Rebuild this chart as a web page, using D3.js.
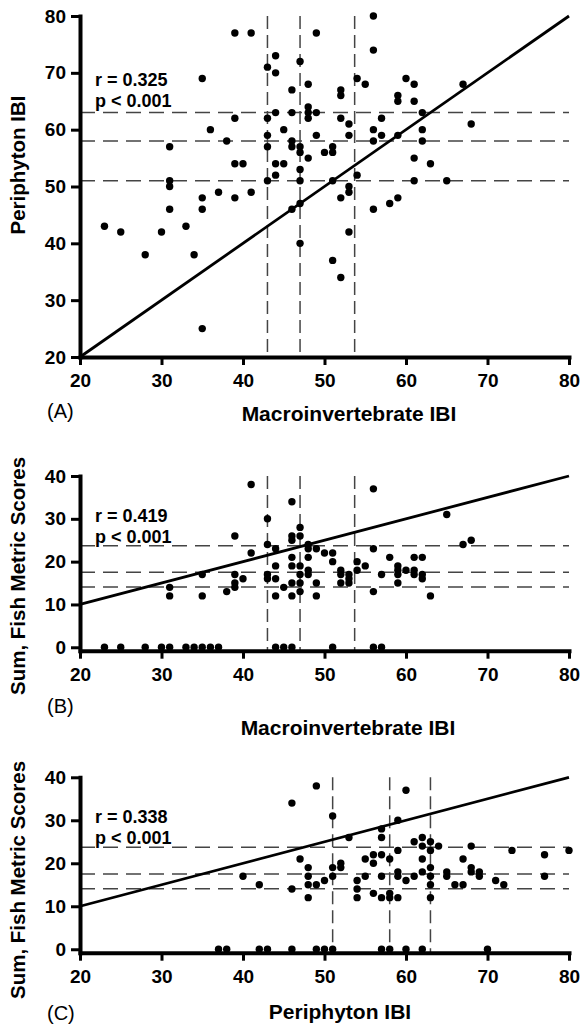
<!DOCTYPE html>
<html>
<head>
<meta charset="utf-8">
<script src="https://cdn.jsdelivr.net/npm/d3@7"></script>
<style>
body { margin: 0; background: #fff; }
svg text { font-family: "Liberation Sans", Arial, Helvetica, sans-serif; }
</style>
</head>
<body>
<script>
// tick labels
const xTicks = [20, 30, 40, 50, 60, 70, 80];
const periTicks = [20, 30, 40, 50, 60, 70, 80];
const fishTicks = [0, 10, 20, 30, 40];

// threshold (dashed) lines
const macroCuts = [43, 47, 53.7];
const periCuts = [51, 58, 63];
const fishCuts = [23.7, 17.5, 14.1];

// fitted lines, [x, y] end points
const fitA = [[20, 20], [80, 80]];
const fitB = [[20, 10], [80, 40]];
const fitC = [[20, 10], [80, 40]];

// sites: (A) macroinvertebrate vs periphyton
const macroVsPeri = [
  [23,43],[25,42],[28,38],[30,42],[33,43],[34,38],[35,25],[47,40],[51,37],[52,34],[53,42],
  [39,77],[41,77],[35,69],[36,60],[31,57],[31,51],[31,50],[31,46],[35,48],[35,46],[37,49],
  [38,58],[39,62],[39,54],[40,54],[39,48],[41,49],[43,71],[44,73],[44,70],[43,62],[43,59],
  [43,57],[43,51],[44,63],[45,60],[44,54],[45,54],[44,52],[46,67],[46,63],[46,58],[46,57],
  [47,72],[46,46],[49,77],[56,80],[56,74],[48,68],[52,67],[52,66],[54,69],[55,68],[60,69],
  [61,68],[59,66],[59,65],[61,65],[67,68],[68,61],[48,64],[48,63],[48,62],[49,63],[52,62],
  [53,61],[53,59],[49,59],[47,57],[47,56],[47,53],[47,51],[48,55],[50,56],[51,57],[51,56],
  [51,51],[54,52],[52,48],[53,50],[53,49],[47,47],[56,60],[56,58],[57,62],[57,59],[59,59],
  [62,63],[62,60],[62,58],[61,55],[61,51],[63,54],[65,51],[56,46],[58,47],[59,48]
];

// (B) macroinvertebrate vs fish
const macroVsFish = [
  [41,38],[46,34],[43,30],[39,26],[47,28],[46,26],[46,25],[47,26],[41,22],[43,24],[44,23],
  [48,24],[48,23],[49,23],[46,21],[46,19],[47,19],[48,21],[48,18],[48,17],[44,19],[43,17],
  [43,16],[44,16],[47,17],[47,15],[47,13],[46,15],[45,14],[44,12],[46,12],[49,15],[49,12],
  [39,17],[39,15],[39,14],[40,16],[38,13],[35,17],[35,12],[31,14],[31,12],
  [56,37],[65,31],[67,24],[68,25],[56,23],[54,20],[54,18],[55,19],[58,21],[50,22],[51,22],
  [51,20],[52,18],[52,17],[52,15],[53,17],[53,16],[53,15],[57,17],[56,13],[59,19],[59,18],
  [59,17],[59,15],[60,18],[61,21],[61,18],[61,17],[62,21],[62,17],[62,16],[63,12],
  [23,0],[25,0],[28,0],[30,0],[31,0],[33,0],[34,0],[35,0],[36,0],[37,0],[44,0],[45,0],
  [46,0],[51,0],[56,0],[57,0]
];

// (C) periphyton vs fish
const periVsFish = [
  [46,34],[40,17],[42,15],[46,14],[47,21],[49,38],[60,37],[51,31],[59,30],[57,28],[57,26],
  [53,26],[61,25],[62,26],[62,24],[63,25],[63,23],[64,24],[59,23],[68,24],[73,23],[80,23],
  [77,22],[55,21],[56,22],[56,20],[57,22],[58,21],[62,21],[67,21],[51,19],[51,17],[52,20],
  [52,19],[48,19],[48,17],[48,15],[48,12],[49,15],[50,16],[54,16],[54,14],[54,12],[55,17],
  [56,13],[57,17],[57,12],[58,13],[58,12],[59,12],[59,18],[59,17],[60,16],[61,17],[62,18],
  [63,19],[63,17],[63,15],[63,12],[65,18],[65,17],[66,15],[67,15],[68,19],[68,18],[69,18],
  [69,17],[71,16],[72,15],[77,17],
  [37,0],[38,0],[42,0],[43,0],[46,0],[49,0],[50,0],[51,0],[57,0],[58,0],[60,0],[62,0],[70,0]
];

const W = 581, H = 1028;
const svg = d3.select("body").append("svg").attr("width", W).attr("height", H);
const x = d3.scaleLinear().domain([20, 80]).range([80, 569]);

function styleAxis(a) {
  a.select(".domain").attr("stroke", "#000").attr("stroke-width", 4).attr("stroke-linecap", "square");
  a.selectAll(".tick line").attr("stroke", "#000").attr("stroke-width", 3);
  a.selectAll(".tick text").attr("fill", "#000").attr("font-size", 19).attr("font-weight", "bold")
    .attr("font-family", '"Liberation Sans", Arial, sans-serif');
}

function panel(o) {
  const y = d3.scaleLinear().domain(o.yDomain).range(o.yRange);
  const g = svg.append("g");
  const top = o.yRange[1], bottom = o.yRange[0];

  // dashed thresholds
  g.selectAll(".hcut").data(o.hCuts).enter().append("line")
    .attr("x1", x(20)).attr("x2", x(80))
    .attr("y1", d => y(d)).attr("y2", d => y(d))
    .attr("stroke", "#444").attr("stroke-width", 1.5).attr("stroke-dasharray", "15,8");
  g.selectAll(".vcut").data(o.vCuts).enter().append("line")
    .attr("x1", d => x(d)).attr("x2", d => x(d))
    .attr("y1", top).attr("y2", bottom)
    .attr("stroke", "#444").attr("stroke-width", 1.5).attr("stroke-dasharray", "13,6");

  // fit line
  g.append("line")
    .attr("x1", x(o.fit[0][0])).attr("y1", y(o.fit[0][1]))
    .attr("x2", x(o.fit[1][0])).attr("y2", y(o.fit[1][1]))
    .attr("stroke", "#000").attr("stroke-width", 2.8);

  g.selectAll("circle").data(o.data).enter().append("circle")
    .attr("cx", d => x(d[0])).attr("cy", d => y(d[1]))
    .attr("r", 3.7).attr("fill", "#000");

  const xa = g.append("g").attr("transform", "translate(0," + bottom + ")")
    .call(d3.axisBottom(x).tickValues(xTicks).tickSize(8).tickSizeOuter(0).tickPadding(9));
  styleAxis(xa);
  const ya = g.append("g").attr("transform", "translate(" + x(20) + ",0)")
    .call(d3.axisLeft(y).tickValues(o.yTicks).tickSize(9).tickSizeOuter(0).tickPadding(5));
  styleAxis(ya);

  // r and p
  g.selectAll(".stat").data(o.stats).enter().append("text")
    .attr("x", 95).attr("y", (d, i) => o.statY + i * 20.5)
    .attr("font-size", 18).attr("font-weight", "bold").text(d => d);

  g.append("text").attr("x", o.xTitleX).attr("y", o.xTitleY)
    .attr("text-anchor", "middle").attr("font-size", 21).attr("font-weight", "bold")
    .text(o.xTitle);
  g.append("text").attr("transform", "translate(25," + o.yTitleY + ") rotate(-90)")
    .attr("text-anchor", "middle").attr("font-size", 20.5).attr("font-weight", "bold")
    .text(o.yTitle);
  g.append("text").attr("x", 47).attr("y", o.tagY)
    .attr("font-size", 20).text(o.tag);
}

panel({
  data: macroVsPeri, fit: fitA, yDomain: [20, 80], yRange: [357, 16], yTicks: periTicks,
  hCuts: periCuts, vCuts: macroCuts, stats: ["r = 0.325", "p < 0.001"], statY: 86,
  xTitle: "Macroinvertebrate IBI", xTitleX: 349, xTitleY: 421,
  yTitle: "Periphyton IBI", yTitleY: 165, tag: "(A)", tagY: 418
});
panel({
  data: macroVsFish, fit: fitB, yDomain: [-0.8, 40], yRange: [650.7, 476], yTicks: fishTicks,
  hCuts: fishCuts, vCuts: macroCuts, stats: ["r = 0.419", "p < 0.001"], statY: 522,
  xTitle: "Macroinvertebrate IBI", xTitleX: 348, xTitleY: 735,
  yTitle: "Sum, Fish Metric Scores", yTitleY: 576, tag: "(B)", tagY: 713
});
panel({
  data: periVsFish, fit: fitC, yDomain: [-0.8, 40], yRange: [952.7, 777.3], yTicks: fishTicks,
  hCuts: fishCuts, vCuts: periCuts, stats: ["r = 0.338", "p < 0.001"], statY: 823,
  xTitle: "Periphyton IBI", xTitleX: 340, xTitleY: 1019,
  yTitle: "Sum, Fish Metric Scores", yTitleY: 880, tag: "(C)", tagY: 1020
});
</script>
</body>
</html>
